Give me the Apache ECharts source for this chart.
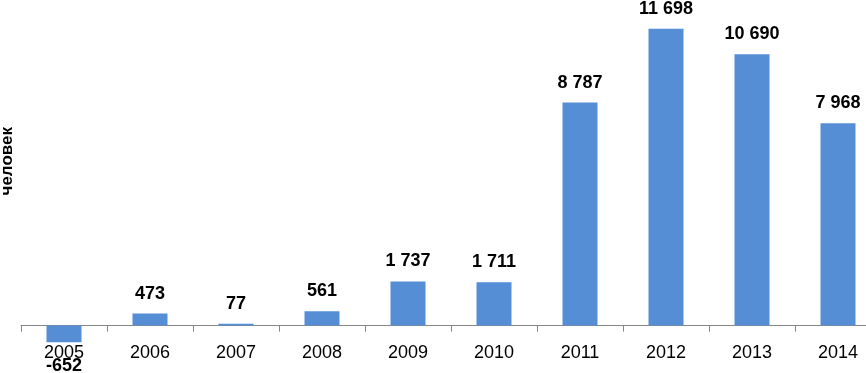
<!DOCTYPE html>
<html><head><meta charset="utf-8">
<script src="https://cdn.jsdelivr.net/npm/echarts@6/dist/echarts.min.js"></script>
<style>html,body{margin:0;padding:0;background:#fff}#c{width:866px;height:373px}</style>
</head><body><div id="c"></div>
<script>
const categories = ['2005','2006','2007','2008','2009','2010','2011','2012','2013','2014'];
const values = [-652, 473, 77, 561, 1737, 1711, 8787, 11698, 10690, 7968];
const axisName = 'человек';

function fmt(v){ const s = String(Math.abs(v)).replace(/\B(?=(\d{3})+(?!\d))/g, ' '); return (v<0?'-':'') + s; }
const FONT = '"Liberation Sans", Arial, sans-serif';
const chart = echarts.init(document.getElementById('c'), null, {renderer:'canvas'});
chart.setOption({
  animation:false,
  grid:{left:21, right:-15, top:21, bottom:22, containLabel:false, outerBoundsMode:'none'},
  graphic:[{type:'text', left:-1, top:127, rotation:Math.PI/2,
    style:{text:axisName, fill:'#000', font:'bold 17px "Liberation Sans", Arial, sans-serif'}}],
  xAxis:{type:'category', data:categories,
    axisLine:{show:true, onZero:true, lineStyle:{color:'#868686', width:1}},
    axisTick:{show:true, length:6, alignWithLabel:false, lineStyle:{color:'#868686'}},
    axisLabel:{color:'#000', fontSize:18, fontFamily:FONT, margin:-7, interval:0}},
  yAxis:{type:'value', min:-1000, max:12000,
    axisLabel:{show:false}, axisLine:{show:false}, axisTick:{show:false}, splitLine:{show:false}},
  series:[{type:'bar', barWidth:35,
    data: values.map(v=>({value:v, label:{position: v<0?'bottom':'top', distance: v<0?15:11}})),
    itemStyle:{color:'#558ED5'},
    label:{show:true, color:'#000', fontSize:18, fontWeight:'bold', fontFamily:FONT,
      formatter:p=>fmt(p.value)}}]
});
</script></body></html>
